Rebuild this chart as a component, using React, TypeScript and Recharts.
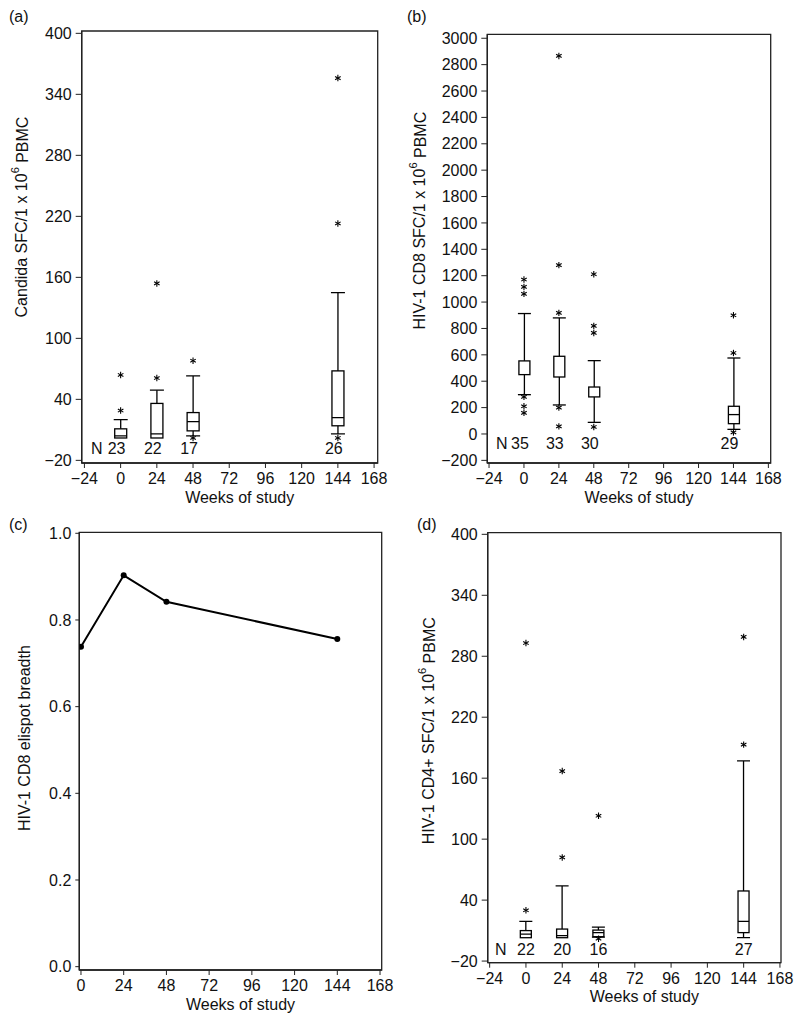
import {
  ComposedChart,
  Bar,
  Scatter,
  Line,
  XAxis,
  YAxis,
  ReferenceArea,
} from "recharts";

const FONT = '"Liberation Sans", Arial, sans-serif';
const INK = "#111";

// ---- (a) Candida ----
const weeksA = [0, 24, 48, 144];
const loA = [2, 2, 4, 6];
const q1A = [2, 2, 9, 14];
const medA = [4, 6, 18, 22];
const q3A = [11, 36, 27, 68];
const hiA = [20, 49, 63, 145];
const outWeeksA = [0, 0, 24, 24, 48, 48, 144, 144, 144];
const outValsA = [64, 29, 154, 61, 78, 2, 356, 213, 2];
const nA = [23, 22, 17, 26];

// ---- (b) HIV-1 CD8 ----
const weeksB = [0, 24, 48, 144];
const loB = [298, 220, 88, 35];
const q1B = [450, 432, 281, 78];
const medB = [null, null, null, 147];
const q3B = [554, 589, 356, 210];
const hiB = [913, 880, 556, 576];
const outWeeksB = [0, 0, 0, 0, 0, 0, 24, 24, 24, 24, 24, 48, 48, 48, 48, 144, 144, 144];
const outValsB = [1171, 1115, 1062, 281, 210, 160, 2866, 1280, 918, 200, 58, 1211, 819, 766, 53, 900, 614, 12];
const nB = [35, 33, 30, 29];

// ---- (c) breadth ----
const weeksC = [0, 24, 48, 144];
const breadthC = [0.738, 0.903, 0.842, 0.756];

// ---- (d) HIV-1 CD4+ ----
const weeksD = [0, 24, 48, 144];
const loD = [3, 3, 3.5, 3];
const q1D = [3, 3, 4, 8];
const medD = [6.5, 5, 8, 19];
const q3D = [10, 11.5, 10.5, 49];
const hiD = [19, 54, 13.5, 177];
const outWeeksD = [0, 0, 24, 24, 48, 48, 144, 144];
const outValsD = [293, 30, 167, 82, 123, 2, 299, 193];
const nD = [22, 20, 16, 27];

const weekTicks = [-24, 0, 24, 48, 72, 96, 120, 144, 168];
const sfcTicks = [-20, 40, 100, 160, 220, 280, 340, 400];
const cd8Ticks = [-200, 0, 200, 400, 600, 800, 1000, 1200, 1400, 1600, 1800, 2000, 2200, 2400, 2600, 2800, 3000];
const breadthTicks = [0, 0.2, 0.4, 0.6, 0.8, 1.0];
const breadthWeekTicks = [0, 24, 48, 72, 96, 120, 144, 168];

const fmtNum = (v: number) => (v < 0 ? `\u2212${-v}` : String(v));

function buildBoxes(weeks: number[], lo: number[], q1: number[], med: (number | null)[], q3: number[], hi: number[]) {
  return weeks.map((w, i) => ({
    week: w,
    range: [lo[i], hi[i]],
    lo: lo[i],
    q1: q1[i],
    med: med[i],
    q3: q3[i],
    hi: hi[i],
  }));
}

function buildPoints(weeks: number[], vals: number[]) {
  return weeks.map((w, i) => ({ week: w, value: vals[i] }));
}

// draws the whole box + whiskers inside the ranged bar's rectangle
function BoxShape(props: any) {
  const { x, y, width, height, payload } = props;
  const top = Math.min(y, y + height);
  const h = Math.abs(height);
  const { lo, q1, med, q3, hi } = payload;
  const k = hi === lo ? 0 : h / (hi - lo);
  const py = (v: number) => top + (hi - v) * k;
  const cx = x + width / 2;
  const cap = width + 2;
  return (
    <g stroke="#000" strokeWidth={1.3} fill="none">
      <line x1={cx} x2={cx} y1={py(hi)} y2={py(q3)} />
      <line x1={cx} x2={cx} y1={py(q1)} y2={py(lo)} />
      {hi > q3 && <line x1={cx - cap / 2} x2={cx + cap / 2} y1={py(hi)} y2={py(hi)} />}
      {lo < q1 && <line x1={cx - cap / 2} x2={cx + cap / 2} y1={py(lo)} y2={py(lo)} />}
      <rect x={x} y={py(q3)} width={width} height={Math.max(py(q1) - py(q3), 1)} fill="#fff" />
      {med != null && <line x1={x} x2={x + width} y1={py(med)} y2={py(med)} />}
    </g>
  );
}

function Star(props: any) {
  const { cx, cy } = props;
  const r = 3.2;
  const arms = [90, 30, 150].map((a) => {
    const t = (a * Math.PI) / 180;
    return { dx: r * Math.cos(t), dy: r * Math.sin(t) };
  });
  return (
    <g stroke="#000" strokeWidth={1.1}>
      {arms.map((d, i) => (
        <line key={i} x1={cx - d.dx} y1={cy - d.dy} x2={cx + d.dx} y2={cy + d.dy} />
      ))}
    </g>
  );
}

function CountLabel(props: any) {
  const { cx, cy, payload, dx } = props;
  return (
    <text
      x={cx + (payload.text === "N" ? 0 : dx)}
      y={cy}
      textAnchor="middle"
      dominantBaseline="central"
      fontSize={16}
      fontFamily={FONT}
      fill={INK}
    >
      {payload.text}
    </text>
  );
}

type Title = { pre: string; sup?: string; post?: string };

function yTitle(t: Title, cx: number, dy: number) {
  return (p: any) => {
    const vb = p.viewBox;
    const x = vb.x + cx;
    const y = vb.y + vb.height / 2 + dy;
    return (
      <text
        x={x}
        y={y}
        transform={`rotate(-90, ${x}, ${y})`}
        textAnchor="middle"
        dominantBaseline="central"
        fontSize={16}
        fontFamily={FONT}
        fill={INK}
      >
        {t.pre}
        {t.sup && (
          <tspan fontSize={11} dy={-7}>
            {t.sup}
          </tspan>
        )}
        {t.post && <tspan dy={t.sup ? 7 : 0}>{t.post}</tspan>}
      </text>
    );
  };
}

function xTitle(p: any) {
  const vb = p.viewBox;
  return (
    <text
      x={vb.x + vb.width / 2 + 10}
      y={vb.y + 34}
      textAnchor="middle"
      dominantBaseline="central"
      fontSize={16}
      fontFamily={FONT}
      fill={INK}
    >
      Weeks of study
    </text>
  );
}

function BoxPanel({
  boxes,
  outliers,
  counts,
  weeks,
  labelY,
  nWeek,
  countDx,
  xDomain,
  yDomain,
  yTicks,
  height,
  margin,
  yAxisWidth,
  title,
  titleX,
  titleDy,
  barSize,
}: any) {
  const countRows = [
    { week: nWeek, value: labelY, text: "N" },
    ...weeks.map((w: number, i: number) => ({ week: w, value: labelY, text: String(counts[i]) })),
  ];
  return (
    <ComposedChart width={400} height={height} data={boxes} margin={margin}>
      <XAxis
        type="number"
        dataKey="week"
        domain={xDomain}
        ticks={weekTicks}
        allowDataOverflow
        interval={0}
        height={40}
        tickSize={5}
        tickMargin={5}
        tick={{ fill: INK, fontSize: 16, fontFamily: FONT }}
        tickFormatter={fmtNum}
        axisLine={{ stroke: "#222", strokeWidth: 1.3 }}
        tickLine={{ stroke: "#222" }}
        label={{ content: xTitle }}
      />
      <YAxis
        type="number"
        domain={yDomain}
        ticks={yTicks}
        allowDataOverflow
        interval={0}
        width={yAxisWidth}
        tickSize={6}
        tickMargin={4}
        tick={{ fill: INK, fontSize: 16, fontFamily: FONT }}
        tickFormatter={fmtNum}
        axisLine={{ stroke: "#222", strokeWidth: 1.3 }}
        tickLine={{ stroke: "#222" }}
        label={{ content: yTitle(title, titleX, titleDy) }}
      />
      <ReferenceArea
        x1={xDomain[0]}
        x2={xDomain[1]}
        y1={yDomain[0]}
        y2={yDomain[1]}
        fill="none"
        stroke="#222"
        strokeWidth={1.3}
        ifOverflow="visible"
      />
      <Bar dataKey="range" barSize={barSize} shape={<BoxShape />} isAnimationActive={false} />
      <Scatter data={outliers} dataKey="value" shape={<Star />} isAnimationActive={false} />
      <Scatter
        data={countRows}
        dataKey="value"
        shape={(p: any) => <CountLabel {...p} dx={countDx} />}
        isAnimationActive={false}
      />
    </ComposedChart>
  );
}

function BreadthPanel() {
  const data = weeksC.map((w, i) => ({ week: w, breadth: breadthC[i] }));
  const xDomain = [-0.94, 168.94];
  const yDomain = [-0.0077, 1.0023];
  return (
    <ComposedChart width={400} height={520} data={data} margin={{ top: 32.3, right: 18.3, left: 0, bottom: 10 }}>
      <XAxis
        type="number"
        dataKey="week"
        domain={xDomain}
        ticks={breadthWeekTicks}
        allowDataOverflow
        interval={0}
        height={40}
        tickSize={5}
        tickMargin={5}
        tick={{ fill: INK, fontSize: 16, fontFamily: FONT }}
        axisLine={{ stroke: "#222", strokeWidth: 1.3 }}
        tickLine={{ stroke: "#222" }}
        label={{ content: xTitle }}
      />
      <YAxis
        type="number"
        domain={yDomain}
        ticks={breadthTicks}
        allowDataOverflow
        interval={0}
        width={79.3}
        tickSize={4}
        tickMargin={4}
        tick={{ fill: INK, fontSize: 16, fontFamily: FONT }}
        tickFormatter={(v: number) => v.toFixed(1)}
        axisLine={{ stroke: "#222", strokeWidth: 1.3 }}
        tickLine={{ stroke: "#222" }}
        label={{ content: yTitle({ pre: "HIV-1 CD8 elispot breadth" }, 25, -13) }}
      />
      <ReferenceArea
        x1={xDomain[0]}
        x2={xDomain[1]}
        y1={yDomain[0]}
        y2={yDomain[1]}
        fill="none"
        stroke="#222"
        strokeWidth={1.3}
        ifOverflow="visible"
      />
      <Line
        type="linear"
        dataKey="breadth"
        stroke="#000"
        strokeWidth={2}
        dot={{ r: 3, fill: "#000", stroke: "#000", strokeWidth: 0 }}
        isAnimationActive={false}
      />
    </ComposedChart>
  );
}

function Letter({ text, left, top }: { text: string; left: number; top: number }) {
  return (
    <div style={{ position: "absolute", left, top, fontSize: 16, lineHeight: "20px", fontFamily: FONT, color: INK }}>
      {text}
    </div>
  );
}

export default function App() {
  return (
    <div style={{ position: "absolute", left: 0, top: 0, width: 800, height: 1020, background: "#fff" }}>
      <div style={{ position: "absolute", left: 0, top: 0 }}>
        <BoxPanel
          boxes={buildBoxes(weeksA, loA, q1A, medA, q3A, hiA)}
          outliers={buildPoints(outWeeksA, outValsA)}
          counts={nA}
          weeks={weeksA}
          labelY={-8}
          nWeek={-15.8}
          countDx={-4}
          xDomain={[-25.8, 170.4]}
          yDomain={[-22.6, 402.3]}
          yTicks={sfcTicks}
          height={515}
          margin={{ top: 31, right: 22.3, left: 0, bottom: 12 }}
          yAxisWidth={81.7}
          title={{ pre: "Candida SFC/1 x 10", sup: "6", post: " PBMC" }}
          titleX={21.7}
          titleDy={-30}
          barSize={12}
        />
      </div>
      <div style={{ position: "absolute", left: 400, top: 0 }}>
        <BoxPanel
          boxes={buildBoxes(weeksB, loB, q1B, medB, q3B, hiB)}
          outliers={buildPoints(outWeeksB, outValsB)}
          counts={nB}
          weeks={weeksB}
          labelY={-72}
          nWeek={-15.2}
          countDx={-4}
          xDomain={[-25.2, 169.6]}
          yDomain={[-220, 3030]}
          yTicks={cd8Ticks}
          height={515}
          margin={{ top: 34.3, right: 29.3, left: 0, bottom: 12 }}
          yAxisWidth={87.3}
          title={{ pre: "HIV-1 CD8 SFC/1 x 10", sup: "6", post: " PBMC" }}
          titleX={20}
          titleDy={-28}
          barSize={11}
        />
      </div>
      <div style={{ position: "absolute", left: 0, top: 500 }}>
        <BreadthPanel />
      </div>
      <div style={{ position: "absolute", left: 400, top: 500 }}>
        <BoxPanel
          boxes={buildBoxes(weeksD, loD, q1D, medD, q3D, hiD)}
          outliers={buildPoints(outWeeksD, outValsD)}
          counts={nD}
          weeks={weeksD}
          labelY={-9}
          nWeek={-16.7}
          countDx={0}
          xDomain={[-25.3, 168.7]}
          yDomain={[-21.6, 401.6]}
          yTicks={sfcTicks}
          height={520}
          margin={{ top: 32.7, right: 19, left: 0, bottom: 17.3 }}
          yAxisWidth={87.7}
          title={{ pre: "HIV-1 CD4+ SFC/1 x 10", sup: "6", post: " PBMC" }}
          titleX={29}
          titleDy={-17}
          barSize={11}
        />
      </div>
      <Letter text="(a)" left={9} top={7} />
      <Letter text="(b)" left={407} top={7} />
      <Letter text="(c)" left={9} top={515} />
      <Letter text="(d)" left={417} top={515} />
    </div>
  );
}
